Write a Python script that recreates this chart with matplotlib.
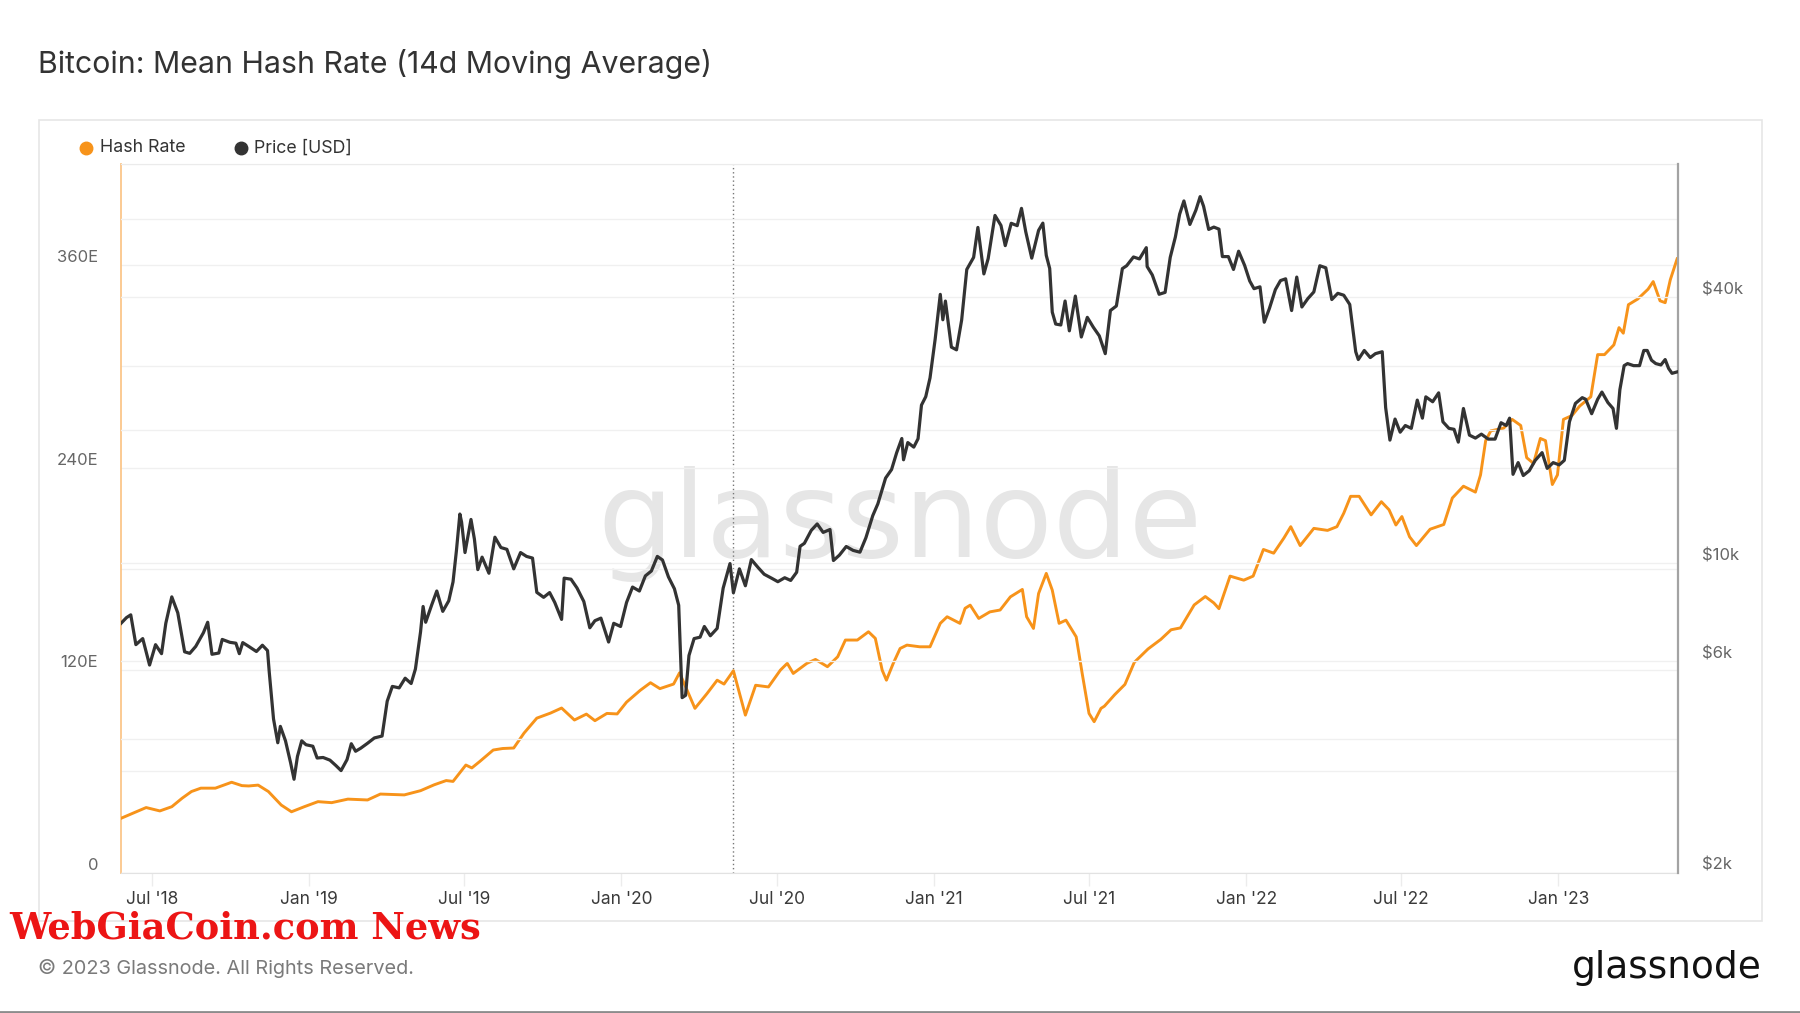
import matplotlib
matplotlib.use("Agg")
import matplotlib.pyplot as plt
import matplotlib.dates as mdates
import matplotlib.transforms as mtrans
from matplotlib.lines import Line2D
from matplotlib.patches import Rectangle
import pandas as pd

# ---- data ----
hash_dates = [
    "2018-05-25", "2018-06-08", "2018-06-24", "2018-07-10", "2018-07-24", "2018-08-05",
    "2018-08-16", "2018-08-27", "2018-09-13", "2018-10-02", "2018-10-14", "2018-10-22",
    "2018-11-02", "2018-11-14", "2018-11-29", "2018-12-11", "2018-12-26", "2019-01-11",
    "2019-01-27", "2019-02-15", "2019-03-10", "2019-03-25", "2019-04-22", "2019-05-11",
    "2019-05-27", "2019-06-10", "2019-06-18", "2019-07-03", "2019-07-10", "2019-07-19",
    "2019-08-04", "2019-08-15", "2019-08-28", "2019-09-09", "2019-09-24", "2019-10-10",
    "2019-10-23", "2019-11-07", "2019-11-21", "2019-12-01", "2019-12-15", "2019-12-27",
    "2020-01-07", "2020-01-23", "2020-02-04", "2020-02-15", "2020-03-02", "2020-03-09",
    "2020-03-27", "2020-04-10", "2020-04-22", "2020-04-30", "2020-05-11", "2020-05-25",
    "2020-06-06", "2020-06-21", "2020-07-05", "2020-07-13", "2020-07-20", "2020-08-05",
    "2020-08-15", "2020-08-29", "2020-09-10", "2020-09-19", "2020-10-03", "2020-10-16",
    "2020-10-24", "2020-11-01", "2020-11-06", "2020-11-14", "2020-11-22", "2020-11-30",
    "2020-12-15", "2020-12-27", "2021-01-08", "2021-01-16", "2021-01-31", "2021-02-06",
    "2021-02-12", "2021-02-22", "2021-03-07", "2021-03-19", "2021-03-31", "2021-04-14",
    "2021-04-19", "2021-04-27", "2021-05-03", "2021-05-12", "2021-05-19", "2021-05-27",
    "2021-06-04", "2021-06-16", "2021-06-23", "2021-07-01", "2021-07-07", "2021-07-15",
    "2021-07-19", "2021-07-31", "2021-08-12", "2021-08-23", "2021-09-08", "2021-09-23",
    "2021-10-05", "2021-10-16", "2021-11-01", "2021-11-14", "2021-11-24", "2021-11-30",
    "2021-12-13", "2021-12-29", "2022-01-09", "2022-01-21", "2022-02-02", "2022-02-14",
    "2022-02-22", "2022-03-05", "2022-03-21", "2022-04-06", "2022-04-17", "2022-04-25",
    "2022-05-03", "2022-05-13", "2022-05-27", "2022-06-08", "2022-06-17", "2022-06-25",
    "2022-07-02", "2022-07-11", "2022-07-19", "2022-08-04", "2022-08-20", "2022-08-30",
    "2022-09-12", "2022-09-26", "2022-10-02", "2022-10-08", "2022-10-14", "2022-10-29",
    "2022-11-08", "2022-11-18", "2022-11-25", "2022-12-03", "2022-12-11", "2022-12-17",
    "2022-12-25", "2022-12-31", "2023-01-07", "2023-01-17", "2023-01-26", "2023-02-08",
    "2023-02-16", "2023-02-24", "2023-03-07", "2023-03-13", "2023-03-18", "2023-03-24",
    "2023-04-04", "2023-04-16", "2023-04-22", "2023-04-30", "2023-05-06", "2023-05-12",
    "2023-05-20",
]
hash_eh = [
    32, 35, 38.5, 36.5, 39, 44,
    48, 50, 50, 53.5, 51.5, 51.3,
    51.8, 48, 40, 36, 39, 42,
    41.4, 43.5, 43, 46.5, 46, 48.5,
    52, 54.5, 54, 63.7, 62, 65.7,
    72.6, 73.5, 73.8, 82.6, 91.5, 94.5,
    97.5, 90.4, 93.9, 90, 94.3, 94,
    101, 108, 112.5, 109, 111.7, 118.4,
    97.3, 106, 114, 111.7, 119.6, 93.3,
    111, 110, 120, 124, 118, 124,
    126.3, 122, 127.9, 137.8, 137.8, 142.7,
    138.8, 120, 114, 124, 132.8, 134.8,
    133.8, 133.8, 147.7, 151.6, 147.7, 156.6,
    158.5, 150.6, 154.5, 155.6, 163.4, 167.8,
    151.6, 144.7, 165.4, 177.3, 167.4, 147.7,
    149.6, 139.7, 118, 94.3, 89.4, 97.3,
    98.6, 105.4, 111.5, 124.6, 132.5, 138.2,
    143.9, 145, 158.6, 163.6, 159.8, 156.4,
    175.7, 173.3, 175.7, 191.5, 189.3, 198.3,
    205, 193.8, 204, 202.8, 205, 213,
    223, 223, 212, 219.8, 215, 206,
    211, 199, 193.8, 203.5, 206.3, 222,
    229, 225.5, 235.7, 256, 261.8, 263.4,
    268.6, 265, 245.9, 242.5, 257.3, 256,
    230, 235.7, 268.6, 270.9, 276.5, 282,
    307, 307, 312.8, 323, 319.7, 336.6,
    340, 345.8, 350.3, 338.9, 337.8, 351.4,
    363.8,
]

price_dates = [
    "2018-05-25", "2018-06-01", "2018-06-06", "2018-06-12", "2018-06-20", "2018-06-28",
    "2018-07-05", "2018-07-12", "2018-07-17", "2018-07-24", "2018-07-31", "2018-08-08",
    "2018-08-14", "2018-08-21", "2018-08-30", "2018-09-04", "2018-09-09", "2018-09-17",
    "2018-09-21", "2018-09-30", "2018-10-07", "2018-10-11", "2018-10-15", "2018-10-22",
    "2018-10-31", "2018-11-07", "2018-11-13", "2018-11-15", "2018-11-20", "2018-11-25",
    "2018-11-28", "2018-12-04", "2018-12-10", "2018-12-14", "2018-12-18", "2018-12-23",
    "2018-12-28", "2019-01-05", "2019-01-10", "2019-01-17", "2019-01-25", "2019-02-01",
    "2019-02-07", "2019-02-14", "2019-02-19", "2019-02-24", "2019-03-02", "2019-03-10",
    "2019-03-18", "2019-03-27", "2019-04-02", "2019-04-08", "2019-04-16", "2019-04-23",
    "2019-04-30", "2019-05-05", "2019-05-11", "2019-05-14", "2019-05-17", "2019-05-24",
    "2019-05-30", "2019-06-06", "2019-06-13", "2019-06-18", "2019-06-22", "2019-06-26",
    "2019-06-28", "2019-07-02", "2019-07-09", "2019-07-13", "2019-07-17", "2019-07-22",
    "2019-07-30", "2019-08-06", "2019-08-13", "2019-08-20", "2019-08-28", "2019-09-05",
    "2019-09-12", "2019-09-19", "2019-09-24", "2019-10-02", "2019-10-09", "2019-10-15",
    "2019-10-23", "2019-10-26", "2019-11-03", "2019-11-10", "2019-11-18", "2019-11-25",
    "2019-12-01", "2019-12-08", "2019-12-17", "2019-12-23", "2019-12-31", "2020-01-07",
    "2020-01-14", "2020-01-22", "2020-01-29", "2020-02-05", "2020-02-12", "2020-02-18",
    "2020-02-25", "2020-03-03", "2020-03-08", "2020-03-12", "2020-03-16", "2020-03-20",
    "2020-03-26", "2020-04-02", "2020-04-07", "2020-04-14", "2020-04-22", "2020-04-29",
    "2020-05-07", "2020-05-11", "2020-05-18", "2020-05-25", "2020-06-01", "2020-06-09",
    "2020-06-16", "2020-06-25", "2020-07-02", "2020-07-10", "2020-07-17", "2020-07-24",
    "2020-07-28", "2020-08-02", "2020-08-10", "2020-08-17", "2020-08-24", "2020-09-01",
    "2020-09-05", "2020-09-12", "2020-09-20", "2020-09-28", "2020-10-06", "2020-10-13",
    "2020-10-21", "2020-10-27", "2020-11-05", "2020-11-12", "2020-11-18", "2020-11-24",
    "2020-11-26", "2020-12-01", "2020-12-08", "2020-12-13", "2020-12-17", "2020-12-22",
    "2020-12-27", "2021-01-02", "2021-01-08", "2021-01-11", "2021-01-14", "2021-01-21",
    "2021-01-27", "2021-02-02", "2021-02-08", "2021-02-16", "2021-02-21", "2021-02-28",
    "2021-03-05", "2021-03-13", "2021-03-20", "2021-03-25", "2021-04-01", "2021-04-08",
    "2021-04-13", "2021-04-18", "2021-04-25", "2021-05-03", "2021-05-08", "2021-05-12",
    "2021-05-16", "2021-05-19", "2021-05-23", "2021-05-29", "2021-06-03", "2021-06-08",
    "2021-06-15", "2021-06-22", "2021-06-29", "2021-07-06", "2021-07-13", "2021-07-20",
    "2021-07-26", "2021-08-02", "2021-08-09", "2021-08-14", "2021-08-22", "2021-08-29",
    "2021-09-06", "2021-09-07", "2021-09-13", "2021-09-21", "2021-09-28", "2021-10-04",
    "2021-10-10", "2021-10-15", "2021-10-20", "2021-10-27", "2021-11-03", "2021-11-08",
    "2021-11-12", "2021-11-18", "2021-11-24", "2021-11-30", "2021-12-04", "2021-12-11",
    "2021-12-17", "2021-12-23", "2021-12-30", "2022-01-05", "2022-01-10", "2022-01-17",
    "2022-01-22", "2022-01-28", "2022-02-04", "2022-02-10", "2022-02-16", "2022-02-23",
    "2022-03-01", "2022-03-07", "2022-03-14", "2022-03-21", "2022-03-28", "2022-04-04",
    "2022-04-11", "2022-04-18", "2022-04-25", "2022-05-02", "2022-05-09", "2022-05-12",
    "2022-05-19", "2022-05-26", "2022-06-01", "2022-06-09", "2022-06-13", "2022-06-18",
    "2022-06-24", "2022-06-30", "2022-07-06", "2022-07-13", "2022-07-20", "2022-07-26",
    "2022-07-30", "2022-08-07", "2022-08-14", "2022-08-19", "2022-08-26", "2022-09-01",
    "2022-09-06", "2022-09-12", "2022-09-19", "2022-09-26", "2022-10-03", "2022-10-11",
    "2022-10-19", "2022-10-26", "2022-11-01", "2022-11-05", "2022-11-09", "2022-11-15",
    "2022-11-21", "2022-11-28", "2022-12-05", "2022-12-13", "2022-12-19", "2022-12-26",
    "2023-01-02", "2023-01-08", "2023-01-14", "2023-01-21", "2023-01-29", "2023-02-02",
    "2023-02-09", "2023-02-16", "2023-02-21", "2023-02-28", "2023-03-06", "2023-03-10",
    "2023-03-14", "2023-03-19", "2023-03-23", "2023-03-30", "2023-04-06", "2023-04-11",
    "2023-04-15", "2023-04-20", "2023-04-25", "2023-05-01", "2023-05-06", "2023-05-10",
    "2023-05-14", "2023-05-20",
]
price_usd = [
    7300, 7540, 7650, 6550, 6760, 5890,
    6550, 6250, 7320, 8400, 7730, 6310,
    6260, 6490, 6970, 7360, 6230, 6270,
    6730, 6630, 6600, 6250, 6620, 6490,
    6320, 6530, 6350, 5680, 4450, 3930,
    4280, 3970, 3540, 3250, 3660, 3970,
    3890, 3860, 3630, 3640, 3590, 3490,
    3400, 3600, 3910, 3760, 3820, 3920,
    4030, 4070, 4880, 5270, 5230, 5500,
    5350, 5770, 7000, 7990, 7360, 8050,
    8660, 7790, 8230, 9080, 10700, 12930,
    12400, 10580, 12570, 11350, 9680, 10330,
    9500, 11460, 10860, 10760, 9720, 10580,
    10370, 10280, 8600, 8380, 8590, 8160,
    7470, 9260, 9210, 8800, 8200, 7150,
    7420, 7520, 6640, 7320, 7200, 8160,
    8840, 8660, 9370, 9610, 10370, 10180,
    9320, 8760, 8040, 4970, 5030, 6190,
    6760, 6810, 7200, 6860, 7130, 8790,
    9990, 8580, 9720, 8900, 10200, 9780,
    9450, 9250, 9090, 9280, 9150, 9550,
    10930, 11100, 11870, 12280, 11750, 11930,
    10150, 10440, 10920, 10700, 10600, 11430,
    12820, 13640, 15590, 16300, 17800, 19160,
    17150, 18760, 18320, 19140, 22800, 23820,
    26270, 32130, 40580, 35550, 39190, 30830,
    30400, 35510, 46200, 49200, 57500, 45140,
    48880, 61200, 58100, 52300, 58750, 58030,
    63500, 56200, 49000, 56630, 58800, 49700,
    46430, 37000, 34770, 34600, 39200, 33560,
    40220, 32500, 36000, 34200, 32700, 29800,
    37300, 38200, 46400, 47100, 49300, 48800,
    51750, 46900, 44900, 40600, 41000, 49200,
    54700, 61600, 66000, 58400, 62900, 67500,
    64200, 56900, 57600, 57000, 49400, 49400,
    46200, 50800, 47200, 43500, 41800, 42200,
    35100, 37700, 41600, 43600, 44000, 37300,
    44400, 38000, 39700, 41100, 47100, 46600,
    39500, 40800, 40400, 38500, 30100, 28900,
    30300, 29200, 29800, 30100, 22500, 19000,
    21200, 19800, 20500, 20200, 23400, 21300,
    23800, 23200, 24300, 20900, 20200, 20100,
    18800, 22400, 19500, 19200, 19600, 19100,
    19100, 20800, 20500, 21300, 15900, 16900,
    15800, 16200, 17100, 17800, 16400, 16900,
    16700, 17100, 20900, 23000, 23700, 23500,
    21800, 23500, 24400, 23100, 22400, 20200,
    24700, 28000, 28300, 28000, 28000, 30300,
    30300, 28800, 28300, 28100, 28900, 27600,
    26900, 27100,
]

halving_date = "2020-05-11"
hash_ticks = [0, 60, 120, 180, 240, 300, 360, 420]
hash_labels = ["0", "", "120E", "", "240E", "", "360E", ""]
price_ticks = [2000, 4000, 6000, 10000, 20000, 40000, 60000]
price_labels = ["$2k", "", "$6k", "$10k", "", "$40k", ""]

ORANGE = "#f7931a"
DARK = "#333333"
W, H = 1800, 1013

plt.rcParams["font.family"] = ["Inter", "DejaVu Sans"]

fig = plt.figure(figsize=(W / 100, H / 100), dpi=100)
fig.patch.set_facecolor("white")

# outer card
fig.add_artist(Rectangle((39 / W, 1 - 921 / H), (1762 - 39) / W, (921 - 120) / H,
                         transform=fig.transFigure, fill=False, ec="#e6e6e6", lw=1.2))
fig.add_artist(Line2D([0, 1], [1.2 / H, 1.2 / H], transform=fig.transFigure,
                      color="#8c8c8c", lw=2))

ax = fig.add_axes([120.5 / W, 1 - 872.5 / H, (1678 - 120.5) / W, (872.5 - 164) / H])
ax2 = ax.twinx()

hd = pd.to_datetime(hash_dates)
pdt = pd.to_datetime(price_dates)

ax.plot(hd, hash_eh, color=ORANGE, lw=2.1, zorder=3, solid_joinstyle="round")
ax2.plot(pdt, price_usd, color=DARK, lw=2.3, zorder=3, solid_joinstyle="round")

ax.axvline(pd.Timestamp(halving_date), color="#777777", lw=1.0, ls=(0, (1, 2)), zorder=1)

ax.set_xlim(pd.Timestamp("2018-05-25"), pd.Timestamp("2023-05-21"))
ax.set_ylim(0, 420)
ax2.set_yscale("log")
ax2.set_ylim(2000, 80000)

# grids
ax.set_yticks(hash_ticks)
ax.set_yticklabels(hash_labels)
ax2.set_yticks(price_ticks)
ax2.set_yticklabels(price_labels)
ax2.yaxis.set_minor_locator(matplotlib.ticker.NullLocator())
ax.grid(axis="y", color="#f0f0f0", lw=1.0, zorder=0)
ax2.grid(axis="y", color="#f0f0f0", lw=1.0, zorder=0)
ax.grid(axis="x", visible=False)

ax.xaxis.set_major_locator(mdates.MonthLocator(bymonth=[1, 7]))
ax.xaxis.set_major_formatter(mdates.DateFormatter("%b '%y"))

ax.tick_params(axis="x", length=9, width=1, color="#ececec", pad=4,
               labelsize=12.5, labelcolor="#3a3a3a")
ax.tick_params(axis="y", length=0, pad=16, labelsize=12, labelcolor="#666666")
ax2.tick_params(axis="y", length=0, pad=17, labelsize=12, labelcolor="#666666")

# labels sit a little above their gridlines
up = mtrans.ScaledTranslation(0, 9 / 100, fig.dpi_scale_trans)
for lab in ax.get_yticklabels() + ax2.get_yticklabels():
    lab.set_transform(lab.get_transform() + up)

for s in ["top", "bottom", "left", "right"]:
    ax2.spines[s].set_visible(False)
ax.spines["right"].set_visible(False)
ax.spines["top"].set_color("#ebebeb")
ax.spines["bottom"].set_color("#e2e2e2")
ax.spines["left"].set_color("#fbc68a")
ax.spines["left"].set_linewidth(1.3)
ax2.spines["right"].set_visible(True)
ax2.spines["right"].set_color("#a3a3a3")
ax2.spines["right"].set_linewidth(1.6)

# watermark
ax.text(900 / W, 1 - 557 / H, "glassnode", transform=fig.transFigure, ha="center",
        va="baseline", fontsize=86, color="#e6e6e6", family="DejaVu Sans", zorder=0.5)

# title, legend, footer
fig.text(38 / W, 1 - 64 / H, "Bitcoin: Mean Hash Rate (14d Moving Average)",
         fontsize=21.8, color="#333333", va="center", ha="left")

fig.add_artist(Line2D([86 / W], [1 - 148 / H], marker="o", markersize=9, color=ORANGE,
                      transform=fig.transFigure, ls="none"))
fig.text(100 / W, 1 - 148 / H, "Hash Rate", fontsize=12.8, color="#333333", va="center")
fig.add_artist(Line2D([241 / W], [1 - 148 / H], marker="o", markersize=9, color=DARK,
                      transform=fig.transFigure, ls="none"))
fig.text(254 / W, 1 - 148 / H, "Price [USD]", fontsize=12.8, color="#333333", va="center")

fig.text(38 / W, 1 - 968 / H, "\u00a9 2023 Glassnode. All Rights Reserved.",
         fontsize=14.3, color="#7a7a7a", va="center", ha="left")
fig.text(1762 / W, 1 - 978 / H, "glassnode", fontsize=27, color="#111111",
         family="DejaVu Sans", ha="right", va="baseline")
fig.text(9 / W, 1 - 928 / H, "WebGiaCoin.com News", fontsize=26.5, color="#ec1515",
         family="DejaVu Serif", fontweight="bold", ha="left", va="center")

fig.savefig("out.png", dpi=100, facecolor="white")
